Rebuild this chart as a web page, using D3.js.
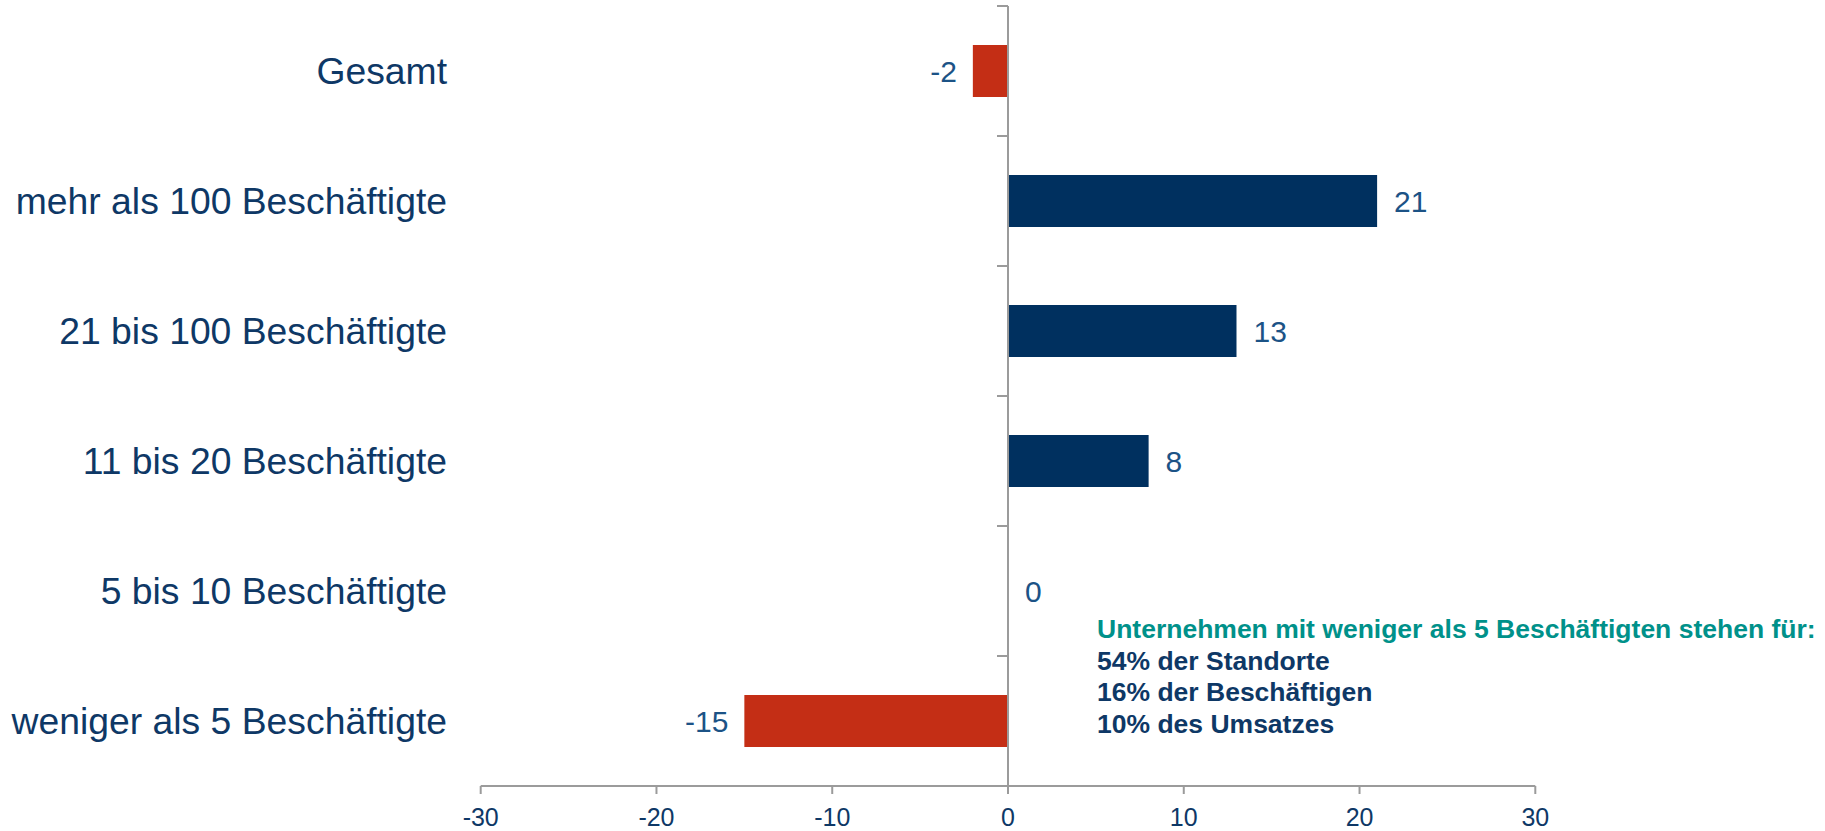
<!DOCTYPE html>
<html lang="de">
<head>
    <meta charset="UTF-8">
    <title>Veränderung nach Betriebsgröße</title>
    <script src="https://d3js.org/d3.v7.min.js"></script>
    <style>
        body { margin: 0; background: #fff; }
        svg { display: block; font-family: "Liberation Sans", Arial, sans-serif; }
        .axis-line { stroke: #9b9b9b; stroke-width: 2px; fill: none; }
        .cat { fill: #0e3866; font-size: 37.3px; }
        .val { fill: #1c5386; font-size: 30px; }
        .tick-label { fill: #0e3866; font-size: 25px; }
        .note { font-size: 26.5px; font-weight: bold; }
    </style>
</head>
<body>
    <svg width="1825" height="831"></svg>

    <script>
        const categories = ["Gesamt", "mehr als 100 Beschäftigte", "21 bis 100 Beschäftigte",
                            "11 bis 20 Beschäftigte", "5 bis 10 Beschäftigte", "weniger als 5 Beschäftigte"];
        const values = [-2, 21, 13, 8, 0, -15];
        const xTicks = [-30, -20, -10, 0, 10, 20, 30];
        const noteLines = ["Unternehmen mit weniger als 5 Beschäftigten stehen für:",
                           "54% der Standorte", "16% der Beschäftigen", "10% des Umsatzes"];

        const svg = d3.select("svg");

        const x = d3.scaleLinear().domain([-30, 30]).range([480.7, 1535.3]);
        const y = d3.scaleBand().domain(categories).range([6, 786])
                    .paddingInner(0.6).paddingOuter(0.3);

        // bars
        svg.selectAll(".bar")
            .data(values)
            .enter()
            .append("rect")
            .attr("class", "bar")
            .attr("x", d => x(Math.min(0, d)))
            .attr("y", (d, i) => y(categories[i]))
            .attr("width", d => Math.abs(x(d) - x(0)))
            .attr("height", y.bandwidth())
            .attr("fill", d => d < 0 ? "#c42e15" : "#00305f");

        // value labels
        svg.selectAll(".val")
            .data(values)
            .enter()
            .append("text")
            .attr("class", "val")
            .attr("x", d => d < 0 ? x(d) - 16 : x(d) + 17)
            .attr("y", (d, i) => y(categories[i]) + y.bandwidth() / 2)
            .attr("dy", "0.36em")
            .attr("text-anchor", d => d < 0 ? "end" : "start")
            .text(d => d);

        // x axis
        const xAxis = svg.append("g").attr("transform", "translate(0,786)");
        xAxis.append("line").attr("class", "axis-line")
            .attr("x1", x(-30)).attr("x2", x(30));
        xAxis.selectAll(".xt")
            .data(xTicks)
            .enter()
            .append("line")
            .attr("class", "axis-line")
            .attr("x1", d => x(d)).attr("x2", d => x(d))
            .attr("y1", 0).attr("y2", 8);
        xAxis.selectAll(".tick-label")
            .data(xTicks)
            .enter()
            .append("text")
            .attr("class", "tick-label")
            .attr("x", d => x(d))
            .attr("y", 40)
            .attr("text-anchor", "middle")
            .text(d => d);

        // y axis at zero, ticks on band boundaries
        const bounds = d3.range(categories.length + 1).map(i => y.range()[0] + i * y.step());
        svg.append("line").attr("class", "axis-line")
            .attr("x1", x(0)).attr("x2", x(0))
            .attr("y1", bounds[0]).attr("y2", bounds[bounds.length - 1]);
        svg.selectAll(".yt")
            .data(bounds)
            .enter()
            .append("line")
            .attr("class", "axis-line")
            .attr("x1", x(0) - 11).attr("x2", x(0))
            .attr("y1", d => d).attr("y2", d => d);

        // category labels
        svg.selectAll(".cat")
            .data(categories)
            .enter()
            .append("text")
            .attr("class", "cat")
            .attr("x", 447)
            .attr("y", d => y(d) + y.bandwidth() / 2)
            .attr("dy", "0.36em")
            .attr("text-anchor", "end")
            .text(d => d);

        // note
        svg.selectAll(".note")
            .data(noteLines)
            .enter()
            .append("text")
            .attr("class", "note")
            .attr("x", 1097)
            .attr("y", (d, i) => 638 + i * 31.5)
            .attr("fill", (d, i) => i === 0 ? "#00918a" : "#0e3866")
            .text(d => d);
    </script>
</body>
</html>
